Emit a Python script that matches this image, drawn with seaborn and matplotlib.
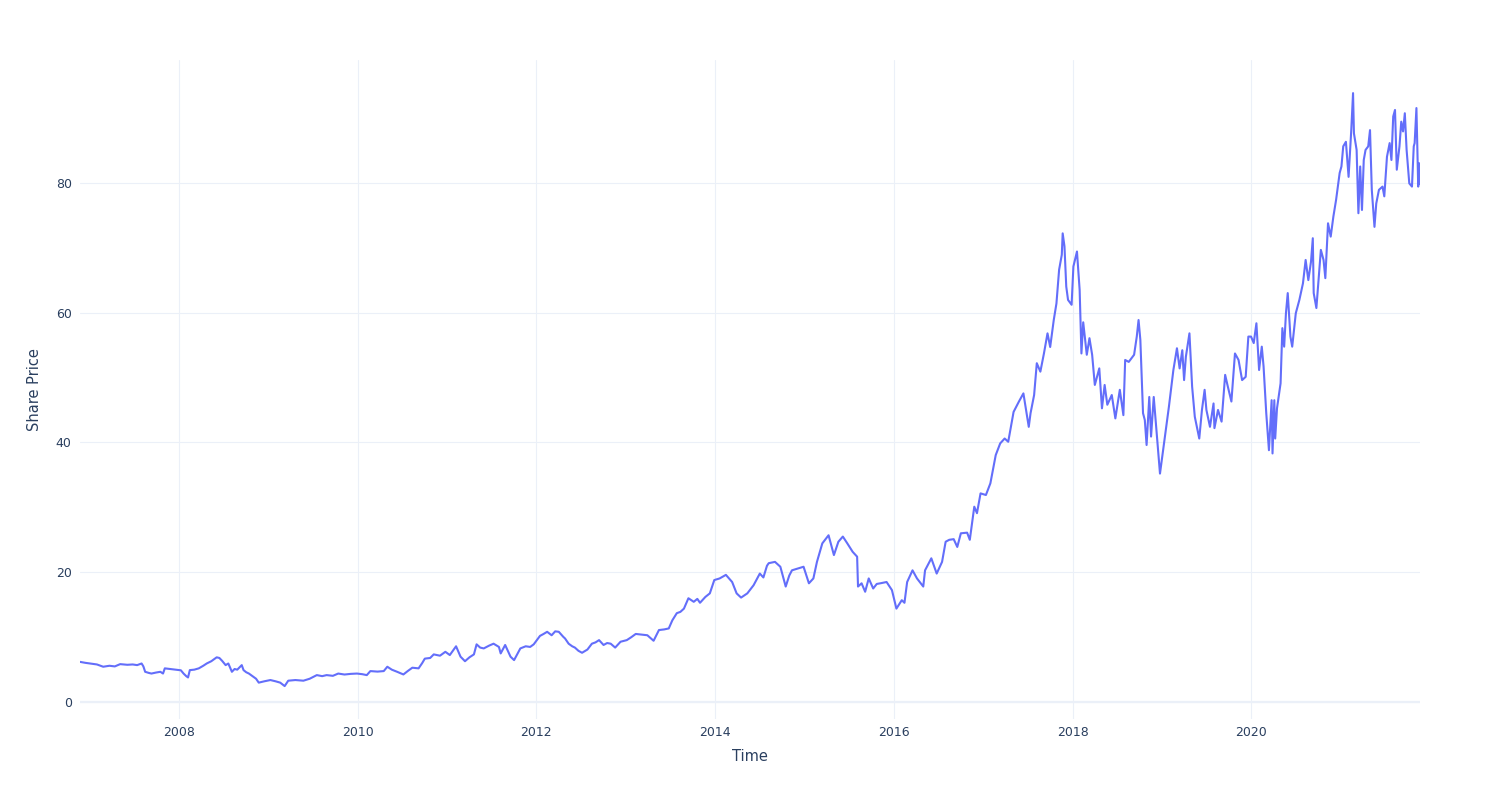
import numpy as np
import pandas as pd
import matplotlib
matplotlib.use("Agg")
import matplotlib.pyplot as plt
import matplotlib.dates as mdates
import seaborn as sns

# Time as decimal years
years_dec = [
    2006.89, 2006.95, 2007.00, 2007.08, 2007.15, 2007.22, 2007.28, 2007.34, 2007.42, 2007.48,
    2007.53, 2007.58, 2007.60, 2007.62, 2007.66, 2007.69, 2007.74, 2007.79, 2007.82, 2007.84,
    2007.90, 2007.97, 2008.02, 2008.05, 2008.08, 2008.10, 2008.12, 2008.17, 2008.22, 2008.27,
    2008.31, 2008.36, 2008.42, 2008.45, 2008.48, 2008.52, 2008.55, 2008.59, 2008.62, 2008.65,
    2008.70, 2008.72, 2008.75, 2008.78, 2008.83, 2008.86, 2008.89, 2008.95, 2009.02, 2009.08,
    2009.13, 2009.18, 2009.22, 2009.30, 2009.39, 2009.46, 2009.54, 2009.60, 2009.65, 2009.72,
    2009.78, 2009.85, 2009.92, 2009.99, 2010.05, 2010.10, 2010.14, 2010.22, 2010.29, 2010.33,
    2010.38, 2010.44, 2010.51, 2010.56, 2010.61, 2010.68, 2010.72, 2010.75, 2010.81, 2010.85,
    2010.92, 2010.98, 2011.03, 2011.10, 2011.15, 2011.20, 2011.25, 2011.30, 2011.33, 2011.37,
    2011.41, 2011.47, 2011.52, 2011.58, 2011.60, 2011.65, 2011.71, 2011.75, 2011.79, 2011.82,
    2011.88, 2011.93, 2011.97, 2012.04, 2012.08, 2012.12, 2012.17, 2012.21, 2012.25, 2012.30,
    2012.32, 2012.36, 2012.40, 2012.43, 2012.47, 2012.51, 2012.57, 2012.62, 2012.66, 2012.70,
    2012.75, 2012.79, 2012.83, 2012.88, 2012.94, 2013.01, 2013.06, 2013.11, 2013.17, 2013.24,
    2013.31, 2013.37, 2013.43, 2013.48, 2013.52, 2013.57, 2013.61, 2013.65, 2013.70, 2013.76,
    2013.80, 2013.83, 2013.89, 2013.94, 2013.99, 2014.05, 2014.12, 2014.19, 2014.24, 2014.29,
    2014.36, 2014.43, 2014.50, 2014.54, 2014.58, 2014.60, 2014.67, 2014.73, 2014.79, 2014.83,
    2014.86, 2014.93, 2014.99, 2015.05, 2015.10, 2015.14, 2015.20, 2015.27, 2015.33, 2015.38,
    2015.43, 2015.48, 2015.54, 2015.59, 2015.60, 2015.64, 2015.68, 2015.72, 2015.77, 2015.81,
    2015.85, 2015.92, 2015.98, 2016.03, 2016.09, 2016.12, 2016.15, 2016.21, 2016.26, 2016.33,
    2016.35, 2016.42, 2016.48, 2016.54, 2016.58, 2016.62, 2016.67, 2016.71, 2016.75, 2016.82,
    2016.85, 2016.90, 2016.93, 2016.97, 2017.03, 2017.08, 2017.14, 2017.19, 2017.24, 2017.28,
    2017.34, 2017.40, 2017.45, 2017.51, 2017.53, 2017.57, 2017.60, 2017.64, 2017.68, 2017.72,
    2017.75, 2017.79, 2017.82, 2017.85, 2017.88, 2017.89, 2017.91, 2017.93, 2017.95, 2017.99,
    2018.01, 2018.05, 2018.08, 2018.10, 2018.12, 2018.16, 2018.19, 2018.22, 2018.25, 2018.30,
    2018.33, 2018.36, 2018.39, 2018.44, 2018.48, 2018.53, 2018.57, 2018.59, 2018.63, 2018.69,
    2018.72, 2018.74, 2018.76, 2018.79, 2018.81, 2018.83, 2018.86, 2018.88, 2018.91, 2018.94,
    2018.98, 2019.01, 2019.05, 2019.08, 2019.13, 2019.17, 2019.20, 2019.23, 2019.25, 2019.27,
    2019.31, 2019.34, 2019.37, 2019.42, 2019.45, 2019.48, 2019.50, 2019.54, 2019.58, 2019.59,
    2019.63, 2019.67, 2019.71, 2019.74, 2019.78, 2019.82, 2019.86, 2019.90, 2019.94, 2019.97,
    2020.00, 2020.03, 2020.06, 2020.09, 2020.12, 2020.14, 2020.17, 2020.20, 2020.23, 2020.24,
    2020.26, 2020.27, 2020.29, 2020.33, 2020.35, 2020.37, 2020.39, 2020.41, 2020.44, 2020.46,
    2020.50, 2020.54, 2020.58, 2020.61, 2020.64, 2020.67, 2020.69, 2020.70, 2020.73, 2020.75,
    2020.78, 2020.81, 2020.83, 2020.86, 2020.89, 2020.92, 2020.95, 2020.99, 2021.01, 2021.03,
    2021.06, 2021.09, 2021.12, 2021.14, 2021.15, 2021.18, 2021.20, 2021.22, 2021.24, 2021.26,
    2021.28, 2021.31, 2021.33, 2021.35, 2021.38, 2021.40, 2021.43, 2021.47, 2021.49, 2021.52,
    2021.55, 2021.57, 2021.59, 2021.61, 2021.63, 2021.66, 2021.68, 2021.70, 2021.72, 2021.74,
    2021.77, 2021.80, 2021.82, 2021.83, 2021.85, 2021.87, 2021.88, 2021.89,
]

share_price = [
    6.2, 6.05, 5.96, 5.8, 5.45, 5.6, 5.5, 5.85, 5.75, 5.8,
    5.7, 5.95, 5.5, 4.67, 4.5, 4.4, 4.55, 4.67, 4.4, 5.2,
    5.1, 5.0, 4.9, 4.4, 4.0, 3.8, 4.93, 5.0, 5.2, 5.6,
    5.96, 6.3, 6.9, 6.8, 6.37, 5.7, 5.95, 4.67, 5.1, 5.0,
    5.7, 4.93, 4.6, 4.4, 3.9, 3.6, 3.0, 3.2, 3.4, 3.2,
    3.0, 2.47, 3.3, 3.4, 3.3, 3.6, 4.16, 4.0, 4.16, 4.05,
    4.4, 4.25, 4.35, 4.4, 4.3, 4.16, 4.78, 4.7, 4.78, 5.45,
    5.0, 4.67, 4.26, 4.8, 5.3, 5.2, 6.0, 6.7, 6.8, 7.35,
    7.15, 7.75, 7.25, 8.6, 7.0, 6.3, 6.9, 7.35, 8.9, 8.4,
    8.27, 8.7, 9.0, 8.5, 7.5, 8.8, 7.0, 6.47, 7.5, 8.27,
    8.6, 8.5, 8.9, 10.2, 10.5, 10.83, 10.3, 10.9, 10.83, 10.06,
    9.8, 9.0, 8.6, 8.4, 7.9, 7.6, 8.1, 9.0, 9.2, 9.55,
    8.8, 9.1, 9.0, 8.4, 9.3, 9.55, 10.0, 10.5, 10.4, 10.3,
    9.45, 11.1, 11.2, 11.35, 12.6, 13.7, 13.9, 14.4, 16.0, 15.45,
    15.9, 15.3, 16.2, 16.75, 18.8, 19.05, 19.6, 18.5, 16.75, 16.1,
    16.75, 18.0, 19.8, 19.2, 21.0, 21.4, 21.6, 20.85, 17.8, 19.5,
    20.3, 20.6, 20.85, 18.3, 19.05, 21.6, 24.45, 25.7, 22.65, 24.7,
    25.5, 24.45, 23.15, 22.4, 17.8, 18.3, 17.0, 19.05, 17.5, 18.2,
    18.3, 18.5, 17.25, 14.4, 15.7, 15.3, 18.5, 20.3, 19.05, 17.8,
    20.3, 22.15, 19.8, 21.6, 24.7, 25.0, 25.1, 23.9, 26.0, 26.1,
    25.0, 30.1, 29.1, 32.15, 31.9, 33.7, 38.05, 39.85, 40.6, 40.1,
    44.7, 46.3, 47.55, 42.4, 44.5, 47.3, 52.2, 50.9, 53.7, 56.8,
    54.7, 58.85, 61.4, 66.6, 68.9, 72.2, 70.2, 64.0, 61.95, 61.2,
    67.1, 69.4, 63.5, 53.7, 58.5, 53.5, 56.05, 53.5, 48.85, 51.4,
    45.25, 48.85, 45.8, 47.3, 43.7, 48.1, 44.2, 52.7, 52.4, 53.5,
    56.3, 58.85, 55.8, 44.5, 43.45, 39.6, 47.0, 40.9, 47.0, 41.9,
    35.2, 38.3, 42.4, 45.5, 51.15, 54.5, 51.4, 54.2, 49.6, 53.2,
    56.8, 48.6, 43.95, 40.6, 45.0, 48.1, 45.0, 42.4, 46.0, 42.2,
    45.0, 43.2, 50.4, 48.6, 46.3, 53.7, 52.7, 49.6, 50.1, 56.3,
    56.3, 55.3, 58.35, 51.15, 54.75, 51.7, 44.5, 38.8, 46.5, 38.3,
    46.5, 40.6, 45.25, 49.1, 57.6, 54.75, 59.9, 63.0, 56.3, 54.75,
    59.9, 61.95, 64.5, 68.1, 65.0, 67.85, 71.45, 63.0, 60.7, 64.25,
    69.65, 68.1, 65.3, 73.75, 71.7, 74.8, 77.35, 81.5, 82.5, 85.6,
    86.3, 80.9, 88.1, 93.8, 87.6, 85.05, 75.3, 82.5, 75.8, 83.5,
    85.05, 85.6, 88.1, 78.9, 73.2, 76.8, 78.9, 79.4, 77.9, 84.0,
    86.1, 83.5, 90.2, 91.2, 82.0, 85.6, 89.4, 87.9, 90.7, 85.05,
    79.9, 79.4, 85.6, 86.1, 91.5, 79.4, 83.0, 79.8,
]


def dec_to_date(y):
    yr = int(np.floor(y))
    start = pd.Timestamp(year=yr, month=1, day=1)
    end = pd.Timestamp(year=yr + 1, month=1, day=1)
    return start + (end - start) * (y - yr)


dates = [dec_to_date(y) for y in years_dec]
df = pd.DataFrame({"Time": dates, "Share Price": share_price})

sns.set_theme(style="white")
plt.rcParams["font.family"] = ["DejaVu Sans"]

text_color = "#2a3f5f"
grid_color = "#ebf0f8"

fig = plt.figure(figsize=(15, 8), dpi=100)
ax = fig.add_axes([80 / 1500, 1 - 719 / 800, 1340 / 1500, 659 / 800])

sns.lineplot(data=df, x="Time", y="Share Price", ax=ax, color="#636efa",
             linewidth=1.5, estimator=None, zorder=3)

ax.set_xlim(df["Time"].min(), df["Time"].max())
ax.set_ylim(-2.6, 98.9)
ax.set_yticks([0, 20, 40, 60, 80])
ax.xaxis.set_major_locator(mdates.YearLocator(2))
ax.xaxis.set_major_formatter(mdates.DateFormatter("%Y"))

ax.grid(True, color=grid_color, linewidth=0.8, zorder=0)
ax.axhline(0, color=grid_color, linewidth=1.6, zorder=1)
for s in ax.spines.values():
    s.set_visible(False)
ax.tick_params(axis="both", length=0, labelsize=9, colors=text_color)
ax.tick_params(axis="x", pad=5)
ax.tick_params(axis="y", pad=6)

ax.set_xlabel("Time", fontsize=10.5, color=text_color, labelpad=7)
ax.set_ylabel("Share Price", fontsize=10.5, color=text_color, labelpad=10)

fig.savefig("out.png", dpi=100, facecolor="white")
